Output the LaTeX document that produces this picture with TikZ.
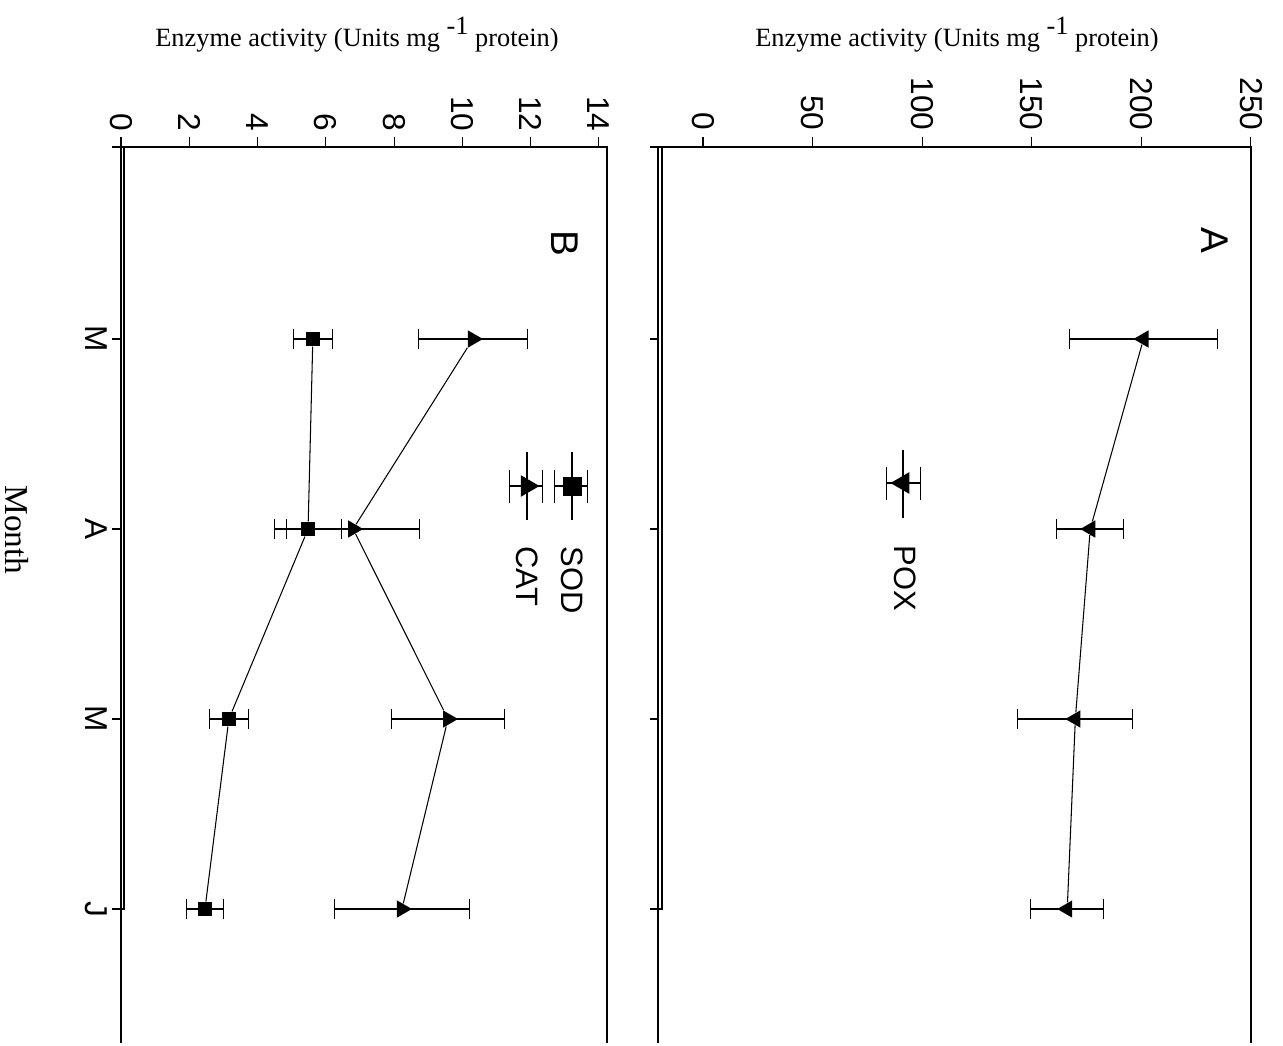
\documentclass[tikz,border=0pt]{standalone}
\usepackage{fontspec}
\setmainfont{Liberation Serif}
\setsansfont{Liberation Sans}
\usetikzlibrary{positioning}
\usetikzlibrary{arrows.meta}
\usetikzlibrary{shapes.geometric}
\tikzset{
        % Numbers on the value axes
        tick_label/.style={font=\sffamily\fontsize{18}{20}\selectfont, rotate=-90, anchor=east, inner sep=0pt},
        % Month names
        month_label/.style={font=\sffamily\fontsize{18}{20}\selectfont, rotate=-90, anchor=north, inner sep=0pt},
        % Panel letters
        panel_label/.style={font=\sffamily\fontsize{22}{24}\selectfont, rotate=-90},
        % Legend names
        legend_label/.style={font=\sffamily\fontsize{17.6}{20}\selectfont, rotate=-90, anchor=west, inner sep=0pt},
        % Axis titles
        axis_title/.style={font=\fontsize{15}{18}\selectfont},
        month_title/.style={font=\fontsize{19}{22}\selectfont, rotate=-90, anchor=north, inner sep=0pt},
        % Markers
        mark_left/.style={regular polygon, regular polygon sides=3, shape border rotate=90, fill=black, inner sep=0pt, minimum size=0.4cm},
        mark_right/.style={mark_left, shape border rotate=-90},
        mark_square/.style={rectangle, fill=black, inner sep=0pt, minimum size=0.28cm},
        % Error bars
        err_bar/.style={{Bar[width=0.4cm]}-{Bar[width=0.4cm]}},
        err_bar_big/.style={{Bar[width=0.66cm]}-{Bar[width=0.66cm]}}
}
\begin{document}
\begin{tikzpicture}[x=0.02cm, y=-0.02cm, line width=0.6pt]
    \useasboundingbox (0,0) rectangle (1283,1045);

    % titles
    \node[axis_title] (title_b) at (357,35) {Enzyme activity (Units mg \raisebox{0.45em}{-1} protein)};
    \node[axis_title] (title_a) at (957,35) {Enzyme activity (Units mg \raisebox{0.45em}{-1} protein)};
    \node[month_title] (month) at (29,530) {Month};

    % panel B frame
    \draw (112,147) -- (607,147) -- (607,1043);
    \draw (121,147) -- (121,1043);
    \draw (124,147) -- (124,909) -- (121,909);
    \foreach \y/\m [count=\i] in {339/M, 529/A, 719/M, 909/J} {
        \draw (112,\y) -- (121,\y);
        \node[month_label] (mon\i) at (108,\y) {\m};
    }

    % panel A frame
    \draw (650,147) -- (1251,147) -- (1251,1043);
    \draw (658,147) -- (658,1043);
    \draw (662,147) -- (662,909) -- (658,909);
    \foreach \y in {339,529,719,909}
        \draw (650,\y) -- (658,\y);

    \node[panel_label] (lab_b) at (565,243) {B};
    \node[panel_label] (lab_a) at (1215,240) {A};

    % panel B data
    \begin{scope}[shift={(121,0)}, x=0.6828cm]
        \foreach \v in {0,2,...,14} {
            \draw (\v,147) -- (\v,137);
            \node[tick_label] (tb\v) at (\v,132) {\v};
        }
        \foreach \v/\e/\y [count=\n] in {10.31/1.61/339, 6.80/1.96/529, 9.58/1.67/719, 8.23/1.99/909} {
            \draw[err_bar] (\v-\e,\y) -- (\v+\e,\y);
            \node[mark_right] (cat\n) at (\v,\y) {};
        }
        \foreach \v/\e/\y [count=\n] in {5.62/0.59/339, 5.48/1.0/529, 3.16/0.59/719, 2.46/0.56/909} {
            \draw[err_bar] (\v-\e,\y) -- (\v+\e,\y);
            \node[mark_square] (sod\n) at (\v,\y) {};
        }
        \draw (cat1) -- (cat2) -- (cat3) -- (cat4);
        \draw (sod1) -- (sod2) -- (sod3) -- (sod4);
    \end{scope}

    % panel A data
    \begin{scope}[shift={(703,0)}, x=0.04384cm]
        \foreach \v in {0,50,...,250} {
            \draw (\v,147) -- (\v,137);
            \node[tick_label] (ta\v) at (\v,131) {\v};
        }
        \foreach \v/\e/\y [count=\n] in {201/33.8/339, 176.7/15.5/529, 169.9/26.5/719, 166.2/16.9/909} {
            \draw[err_bar] (\v-\e,\y) -- (\v+\e,\y);
            \node[mark_left] (pox\n) at (\v,\y) {};
        }
        \draw (pox1) -- (pox2) -- (pox3) -- (pox4);
    \end{scope}

    % legend B
    \draw[err_bar_big] (554,486) -- (588,486);
    \draw (572,452) -- (572,520);
    \node[mark_square, minimum size=0.38cm] (sod_key) at (572,486) {};
    \node[legend_label] (sod_text) at (572,546) {SOD};
    \draw[err_bar_big] (509,486) -- (543,486);
    \draw (527,452) -- (527,520);
    \node[mark_right, minimum size=0.5cm] (cat_key) at (527,486) {};
    \node[legend_label] (cat_text) at (527,546) {CAT};

    % legend A
    \draw[err_bar_big] (886,483) -- (921,483);
    \draw (903,450) -- (903,518);
    \node[mark_left, minimum size=0.5cm] (pox_key) at (903,483) {};
    \node[legend_label] (pox_text) at (905,545) {POX};
\end{tikzpicture}
\end{document}
